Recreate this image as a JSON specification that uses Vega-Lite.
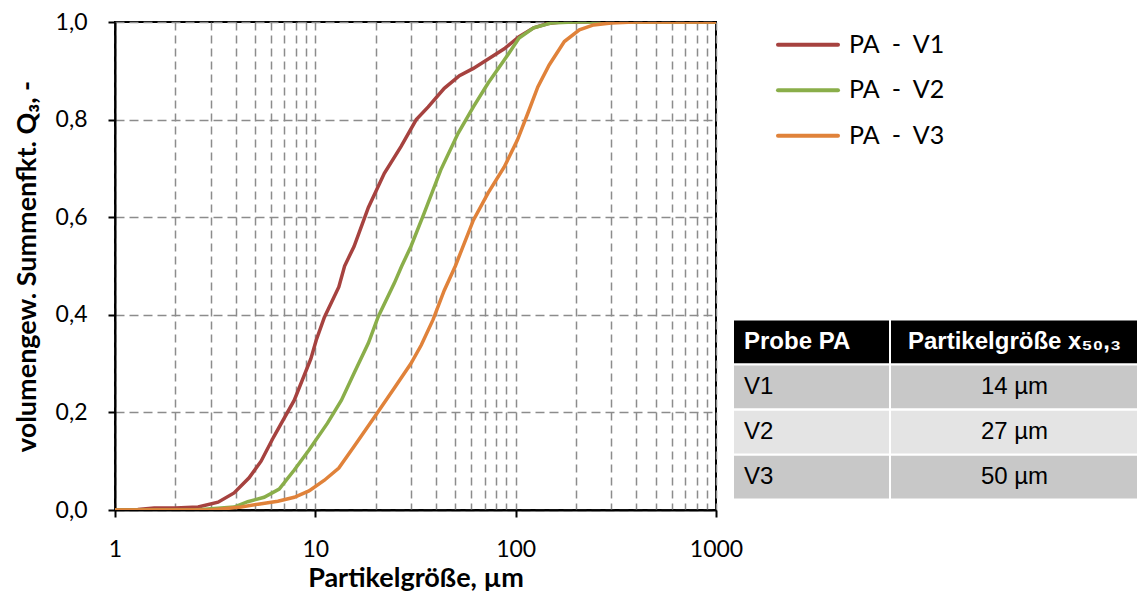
{
  "$schema": "https://vega.github.io/schema/vega-lite/v6.json",
  "background": "white",
  "padding": {"left": 12, "top": 10, "right": 0, "bottom": 0},
  "bounds": "flush",
  "spacing": 18,
  "config": {
    "view": {"stroke": null},
    "font": "Lato"
  },
  "datasets": {
    "curves": [
      {"series": "V1", "size": 1, "q3": 0},
      {"series": "V1", "size": 1.3, "q3": 0.001},
      {"series": "V1", "size": 1.57, "q3": 0.004},
      {"series": "V1", "size": 2, "q3": 0.004},
      {"series": "V1", "size": 2.6, "q3": 0.006},
      {"series": "V1", "size": 3.27, "q3": 0.016},
      {"series": "V1", "size": 3.93, "q3": 0.035},
      {"series": "V1", "size": 4.67, "q3": 0.066},
      {"series": "V1", "size": 5.36, "q3": 0.1},
      {"series": "V1", "size": 6.2, "q3": 0.15},
      {"series": "V1", "size": 7.85, "q3": 0.225},
      {"series": "V1", "size": 9.5, "q3": 0.31},
      {"series": "V1", "size": 10.1, "q3": 0.348},
      {"series": "V1", "size": 11.1, "q3": 0.395},
      {"series": "V1", "size": 13.1, "q3": 0.457},
      {"series": "V1", "size": 14, "q3": 0.5},
      {"series": "V1", "size": 15.6, "q3": 0.54},
      {"series": "V1", "size": 18.4, "q3": 0.62},
      {"series": "V1", "size": 22.1, "q3": 0.69},
      {"series": "V1", "size": 26.8, "q3": 0.745},
      {"series": "V1", "size": 31.9, "q3": 0.8},
      {"series": "V1", "size": 36.6, "q3": 0.826},
      {"series": "V1", "size": 44, "q3": 0.864},
      {"series": "V1", "size": 52.4, "q3": 0.89},
      {"series": "V1", "size": 61.5, "q3": 0.905},
      {"series": "V1", "size": 73.6, "q3": 0.925},
      {"series": "V1", "size": 87.7, "q3": 0.945},
      {"series": "V1", "size": 104, "q3": 0.97},
      {"series": "V1", "size": 123, "q3": 0.988},
      {"series": "V1", "size": 145, "q3": 0.997},
      {"series": "V1", "size": 168, "q3": 1},
      {"series": "V1", "size": 1000, "q3": 1},
      {"series": "V2", "size": 1, "q3": 0},
      {"series": "V2", "size": 2.5, "q3": 0},
      {"series": "V2", "size": 3.93, "q3": 0.006},
      {"series": "V2", "size": 4.6, "q3": 0.017},
      {"series": "V2", "size": 5.55, "q3": 0.026},
      {"series": "V2", "size": 6.6, "q3": 0.043},
      {"series": "V2", "size": 7.85, "q3": 0.082},
      {"series": "V2", "size": 9.3, "q3": 0.123},
      {"series": "V2", "size": 11.5, "q3": 0.178},
      {"series": "V2", "size": 13.5, "q3": 0.225},
      {"series": "V2", "size": 15.6, "q3": 0.28},
      {"series": "V2", "size": 18.4, "q3": 0.342},
      {"series": "V2", "size": 20.6, "q3": 0.396},
      {"series": "V2", "size": 24.8, "q3": 0.465},
      {"series": "V2", "size": 27, "q3": 0.5},
      {"series": "V2", "size": 30, "q3": 0.54},
      {"series": "V2", "size": 34.9, "q3": 0.608},
      {"series": "V2", "size": 42.3, "q3": 0.697},
      {"series": "V2", "size": 51.6, "q3": 0.772},
      {"series": "V2", "size": 61.5, "q3": 0.826},
      {"series": "V2", "size": 72.9, "q3": 0.875},
      {"series": "V2", "size": 87.7, "q3": 0.922},
      {"series": "V2", "size": 104, "q3": 0.967},
      {"series": "V2", "size": 123, "q3": 0.988},
      {"series": "V2", "size": 150, "q3": 0.998},
      {"series": "V2", "size": 195, "q3": 1},
      {"series": "V2", "size": 1000, "q3": 1},
      {"series": "V3", "size": 1, "q3": 0},
      {"series": "V3", "size": 3, "q3": 0},
      {"series": "V3", "size": 4.26, "q3": 0.006},
      {"series": "V3", "size": 5.18, "q3": 0.012},
      {"series": "V3", "size": 6.5, "q3": 0.018},
      {"series": "V3", "size": 7.85, "q3": 0.026},
      {"series": "V3", "size": 9.3, "q3": 0.039},
      {"series": "V3", "size": 11.1, "q3": 0.061},
      {"series": "V3", "size": 13.1, "q3": 0.086},
      {"series": "V3", "size": 15.6, "q3": 0.13},
      {"series": "V3", "size": 19.7, "q3": 0.19},
      {"series": "V3", "size": 24.8, "q3": 0.25},
      {"series": "V3", "size": 30, "q3": 0.3},
      {"series": "V3", "size": 33.8, "q3": 0.338},
      {"series": "V3", "size": 38.7, "q3": 0.39},
      {"series": "V3", "size": 44, "q3": 0.45},
      {"series": "V3", "size": 50, "q3": 0.5},
      {"series": "V3", "size": 61.5, "q3": 0.594},
      {"series": "V3", "size": 72.9, "q3": 0.65},
      {"series": "V3", "size": 87.7, "q3": 0.703},
      {"series": "V3", "size": 102, "q3": 0.758},
      {"series": "V3", "size": 115, "q3": 0.813},
      {"series": "V3", "size": 129, "q3": 0.867},
      {"series": "V3", "size": 147, "q3": 0.912},
      {"series": "V3", "size": 175, "q3": 0.96},
      {"series": "V3", "size": 208, "q3": 0.984},
      {"series": "V3", "size": 245, "q3": 0.994},
      {"series": "V3", "size": 300, "q3": 0.998},
      {"series": "V3", "size": 390, "q3": 1},
      {"series": "V3", "size": 1000, "q3": 1}
    ],
    "legend": [
      {"series": "V1", "label": "PA \u00a0-\u00a0 V1"},
      {"series": "V2", "label": "PA \u00a0-\u00a0 V2"},
      {"series": "V3", "label": "PA \u00a0-\u00a0 V3"}
    ],
    "table": [
      {"row": "header", "probe": "Probe PA", "size": "Partikelgröße x₅₀,₃"},
      {"row": "V1", "probe": "V1", "size": "14 µm"},
      {"row": "V2", "probe": "V2", "size": "27 µm"},
      {"row": "V3", "probe": "V3", "size": "50 µm"}
    ]
  },
  "hconcat": [
    {
      "width": 601,
      "height": 488,
      "view": {"stroke": "#000000", "strokeWidth": 2},
      "data": {"name": "curves"},
      "mark": {"type": "line", "strokeWidth": 3.5, "clip": true},
      "encoding": {
        "x": {
          "field": "size", "type": "quantitative",
          "scale": {"type": "log", "domain": [1, 1000]},
          "axis": {
            "values": [1,2,3,4,5,6,7,8,9,10,20,30,40,50,60,70,80,90,100,200,300,400,500,600,700,800,900,1000],
            "labelExpr": "indexof([1,10,100,1000], datum.value) >= 0 ? toString(datum.value) : ''",
            "labelOverlap": false,
            "labelFlush": false,
            "labelFont": "Lato", "labelFontSize": 23, "labelColor": "#000000", "labelPadding": 21,
            "tickSize": 7, "tickColor": "#000000", "tickWidth": 2,
            "tickOpacity": {"condition": {"test": "indexof([1,10,100,1000], datum.value) >= 0", "value": 1}, "value": 0},
            "domainColor": "#000000", "domainWidth": 2,
            "grid": true, "gridColor": "#8c8c8c", "gridDash": [8, 5], "gridWidth": 1.5,
            "title": "Partikelgröße, µm",
            "titleFont": "Lato", "titleFontSize": 27, "titleFontWeight": "bold", "titleColor": "#000000", "titlePadding": 4
          }
        },
        "y": {
          "field": "q3", "type": "quantitative",
          "scale": {"domain": [0, 1]},
          "axis": {
            "values": [0, 0.2, 0.4, 0.6, 0.8, 1],
            "labelExpr": "replace(format(datum.value, '.1f'), '.', ',')",
            "labelFont": "Lato", "labelFontSize": 23, "labelColor": "#000000", "labelPadding": 21,
            "tickSize": 7, "tickColor": "#000000", "tickWidth": 2,
            "domainColor": "#000000", "domainWidth": 2,
            "grid": true, "gridColor": "#8c8c8c", "gridDash": [9, 5], "gridWidth": 1.5,
            "title": "volumengew. Summenfkt. Q₃, -",
            "titleFont": "Lato", "titleFontSize": 27, "titleFontWeight": "bold", "titleColor": "#000000", "titlePadding": 14
          }
        },
        "color": {
          "field": "series", "type": "nominal",
          "scale": {"domain": ["V1", "V2", "V3"], "range": ["#a6423f", "#8aae4a", "#e0823a"]},
          "legend": null
        }
      }
    },
    {
      "bounds": "flush",
      "spacing": 161.5,
      "vconcat": [
        {
          "width": 148,
          "height": 136.5,
          "data": {"name": "legend"},
          "layer": [
            {
              "mark": {"type": "point", "shape": "stroke", "size": 3600, "strokeWidth": 4, "filled": false, "opacity": 1, "strokeCap": "round"},
              "encoding": {
                "y": {"field": "series", "type": "nominal", "scale": {"domain": ["V1", "V2", "V3"]}, "axis": null},
                "color": {
                  "field": "series", "type": "nominal",
                  "scale": {"domain": ["V1", "V2", "V3"], "range": ["#a6423f", "#8aae4a", "#e0823a"]},
                  "legend": null
                }
              }
            },
            {
              "mark": {"type": "text", "align": "left", "baseline": "middle", "dx": 41, "font": "Lato", "fontSize": 25, "color": "#000000"},
              "encoding": {
                "y": {"field": "series", "type": "nominal", "scale": {"domain": ["V1", "V2", "V3"]}, "axis": null},
                "text": {"field": "label"}
              }
            }
          ]
        },
        {
          "bounds": "flush",
          "spacing": 2,
          "hconcat": [
            {
              "width": 155,
              "height": 178,
              "data": {"name": "table"},
              "layer": [
                {
                  "mark": {"type": "rect"},
                  "encoding": {
                    "y": {"field": "row", "type": "nominal", "scale": {"domain": ["header", "V1", "V2", "V3"], "paddingInner": 0.05, "paddingOuter": 0}, "axis": null},
                    "fill": {"field": "row", "type": "nominal", "scale": {"domain": ["header", "V1", "V2", "V3"], "range": ["#000000", "#c8c8c8", "#e4e4e4", "#c8c8c8"]}, "legend": null}
                  }
                },
                {
                  "transform": [{"filter": "datum.row === 'header'"}],
                  "mark": {"type": "text", "align": "left", "baseline": "middle", "dx": -67.5, "font": "Liberation Sans", "fontSize": 24, "fontWeight": "bold", "color": "#ffffff"},
                  "encoding": {
                    "y": {"field": "row", "type": "nominal", "scale": {"domain": ["header", "V1", "V2", "V3"], "paddingInner": 0.05, "paddingOuter": 0}, "axis": null},
                    "text": {"field": "probe"}
                  }
                },
                {
                  "transform": [{"filter": "datum.row !== 'header'"}],
                  "mark": {"type": "text", "align": "left", "baseline": "middle", "dx": -67.5, "font": "Liberation Sans", "fontSize": 24, "color": "#000000"},
                  "encoding": {
                    "y": {"field": "row", "type": "nominal", "scale": {"domain": ["header", "V1", "V2", "V3"], "paddingInner": 0.05, "paddingOuter": 0}, "axis": null},
                    "text": {"field": "probe"}
                  }
                }
              ]
            },
            {
              "width": 247,
              "height": 178,
              "data": {"name": "table"},
              "layer": [
                {
                  "mark": {"type": "rect"},
                  "encoding": {
                    "y": {"field": "row", "type": "nominal", "scale": {"domain": ["header", "V1", "V2", "V3"], "paddingInner": 0.05, "paddingOuter": 0}, "axis": null},
                    "fill": {"field": "row", "type": "nominal", "scale": {"domain": ["header", "V1", "V2", "V3"], "range": ["#000000", "#c8c8c8", "#e4e4e4", "#c8c8c8"]}, "legend": null}
                  }
                },
                {
                  "transform": [{"filter": "datum.row === 'header'"}],
                  "mark": {"type": "text", "align": "center", "baseline": "middle", "font": "Liberation Sans", "fontSize": 24, "fontWeight": "bold", "color": "#ffffff"},
                  "encoding": {
                    "y": {"field": "row", "type": "nominal", "scale": {"domain": ["header", "V1", "V2", "V3"], "paddingInner": 0.05, "paddingOuter": 0}, "axis": null},
                    "text": {"field": "size"}
                  }
                },
                {
                  "transform": [{"filter": "datum.row !== 'header'"}],
                  "mark": {"type": "text", "align": "center", "baseline": "middle", "font": "Liberation Sans", "fontSize": 24, "color": "#000000"},
                  "encoding": {
                    "y": {"field": "row", "type": "nominal", "scale": {"domain": ["header", "V1", "V2", "V3"], "paddingInner": 0.05, "paddingOuter": 0}, "axis": null},
                    "text": {"field": "size"}
                  }
                }
              ]
            }
          ]
        }
      ]
    }
  ]
}
